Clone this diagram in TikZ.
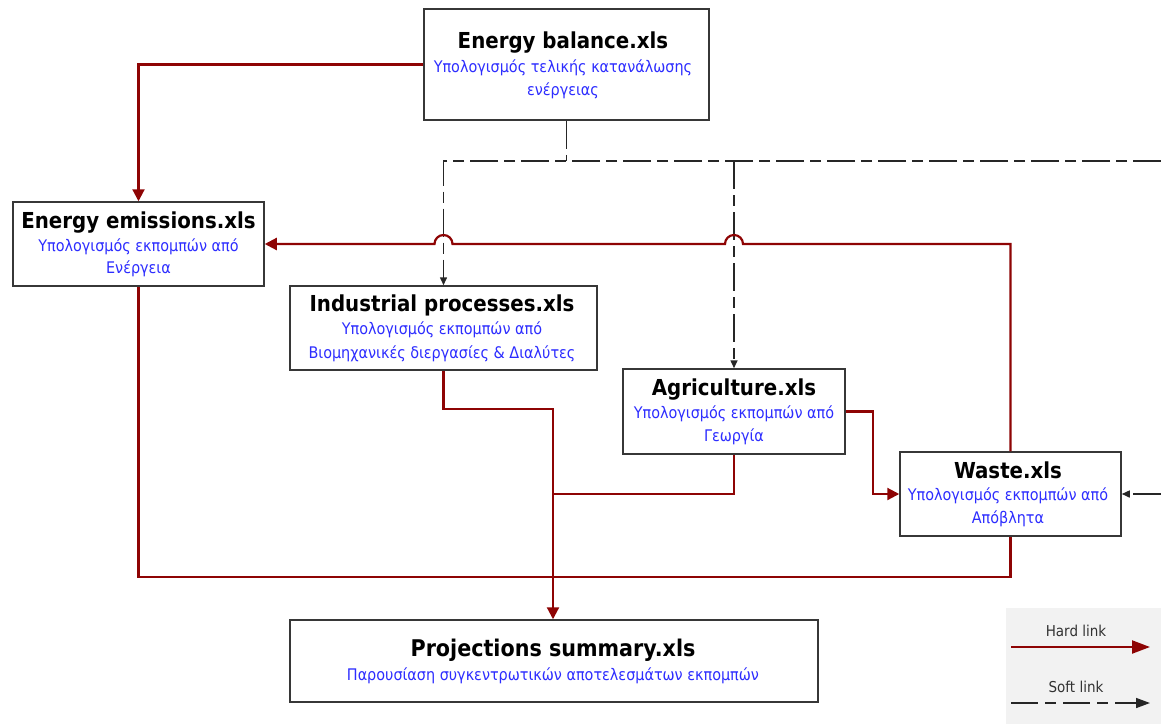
\documentclass[tikz,border=0pt]{standalone}
\usepackage{fontspec}
\newfontfamily\cond{DejaVu Sans Condensed}
\usetikzlibrary{arrows.meta,shadows}
\definecolor{hard}{RGB}{142,4,4}
\definecolor{bluetxt}{RGB}{45,45,255}
\definecolor{boxline}{RGB}{55,55,55}
\definecolor{leggray}{RGB}{242,242,242}
\definecolor{legtxt}{RGB}{50,50,50}
\tikzset{
  filebox/.style={draw=boxline,line width=1.5pt,fill=white,rectangle,inner sep=0pt,
    drop shadow={shadow xshift=1.2pt,shadow yshift=-1.2pt,fill=black!35,opacity=0.6}},
  ttl/.style={anchor=base,inner sep=0pt,font=\cond\bfseries\fontsize{22}{24}\selectfont,text=black},
  bigttl/.style={anchor=base,inner sep=0pt,font=\cond\bfseries\fontsize{23}{26}\selectfont,text=black},
  desc/.style={anchor=base,inner sep=0pt,font=\cond\fontsize{16}{18}\selectfont,text=bluetxt},
  legtext/.style={anchor=base,inner sep=0pt,font=\cond\fontsize{15}{17}\selectfont,text=legtxt},
  hardlink/.style={draw=hard,line width=2.2pt,line join=miter},
  hardarrow/.style={hardlink,-{Triangle[length=12pt,width=12pt]}},
  softlink/.style={draw=black!85,line width=1.5pt,dash pattern=on 28pt off 6pt on 11pt off 6pt},
  softarrow/.style={softlink,-{Triangle[length=8pt,width=7pt]}},
}
\begin{document}
\begin{tikzpicture}[x=1pt,y=-1pt]
\useasboundingbox (0,0) rectangle (1161,724);

% legend background
\fill[leggray] (1006,608) rectangle (1161,724);

% boxes
\node[filebox,minimum width=285pt,minimum height=111pt] (bal) at (566.5,64.5) {};
\node[filebox,minimum width=251pt,minimum height=84pt] (emis) at (138.5,244) {};
\node[filebox,minimum width=307pt,minimum height=84pt] (ind) at (443.5,328) {};
\node[filebox,minimum width=222pt,minimum height=85pt] (agr) at (734,411.5) {};
\node[filebox,minimum width=221pt,minimum height=84pt] (waste) at (1010.5,494) {};
\node[filebox,minimum width=528pt,minimum height=82pt] (proj) at (554,661) {};

% texts
\node[ttl] (balT) at (563,48) {Energy balance.xls};
\node[desc] (balA) at (563,72) {Υπολογισμός τελικής κατανάλωσης};
\node[desc] (balB) at (563,95) {ενέργειας};

\node[ttl] (emisT) at (138.5,228) {Energy emissions.xls};
\node[desc] (emisA) at (138.5,251) {Υπολογισμός εκπομπών από};
\node[desc] (emisB) at (138.5,273) {Ενέργεια};

\node[ttl] (indT) at (442,311) {Industrial processes.xls};
\node[desc] (indA) at (442,334) {Υπολογισμός εκπομπών από};
\node[desc] (indB) at (442,358) {Βιομηχανικές διεργασίες \& Διαλύτες};

\node[ttl] (agrT) at (734,395) {Agriculture.xls};
\node[desc] (agrA) at (734,418) {Υπολογισμός εκπομπών από};
\node[desc] (agrB) at (734,441) {Γεωργία};

\node[ttl] (wasteT) at (1008,478) {Waste.xls};
\node[desc] (wasteA) at (1008,500) {Υπολογισμός εκπομπών από};
\node[desc] (wasteB) at (1008,523) {Απόβλητα};

\node[bigttl] (projT) at (553,656) {Projections summary.xls};
\node[desc] (projA) at (553,680) {Παρουσίαση συγκεντρωτικών αποτελεσμάτων εκπομπών};

% coordinates
\coordinate (softy) at (0,161);
\coordinate (softend) at (1161,161);
\coordinate (wasteSoft) at (1161,494);
\coordinate (hopy) at (0,244);
\coordinate (boty) at (0,577);
\coordinate (sumx) at (553,0);
\coordinate (indy) at (0,409);
\coordinate (agry) at (0,494);
\coordinate (agrx) at (873,0);

% soft links
\draw[softlink] (bal.south) -- (bal.south |- softy);
\draw[softarrow] (softend) -- (ind.north |- softy) -- (ind.north);
\draw[softarrow] (agr.north |- softy) -- (agr.north);
\draw[softarrow] (wasteSoft) -- (waste.east);

% hard links
\draw[hardarrow] (bal.west) -| (emis.north);
\draw[hardarrow] (waste.north) -- (waste.north |- hopy) -- ([xshift=9pt]agr.north |- hopy)
   arc[start angle=0,end angle=180,radius=9pt] -- ([xshift=9pt]ind.north |- hopy)
   arc[start angle=0,end angle=180,radius=9pt] -- (emis.east);
\draw[hardlink] (emis.south) -- (emis.south |- boty) -- (waste.south |- boty) -- (waste.south);
\draw[hardarrow] (ind.south) -- (ind.south |- indy) -- (sumx |- indy) -- (sumx |- proj.north);
\draw[hardlink] (agr.south) -- (agr.south |- agry) -- (sumx |- agry);
\draw[hardarrow] (agr.east) -- (agrx |- agr.east) -- (agrx |- waste.west) -- (waste.west);

% legend
\node[legtext] (hardT) at (1076,636) {Hard link};
\coordinate (hardA) at (1011,647);
\coordinate (hardB) at (1150,647);
\draw[hardlink,-{Triangle[length=18pt,width=13pt]}] (hardA) -- (hardB);
\node[legtext] (softT) at (1076,692) {Soft link};
\coordinate (softA) at (1011,703);
\coordinate (softB) at (1150,703);
\draw[softlink,dash pattern=on 27pt off 7pt on 11pt off 7pt,-{Triangle[length=14pt,width=10pt]}] (softA) -- (softB);
\end{tikzpicture}
\end{document}
